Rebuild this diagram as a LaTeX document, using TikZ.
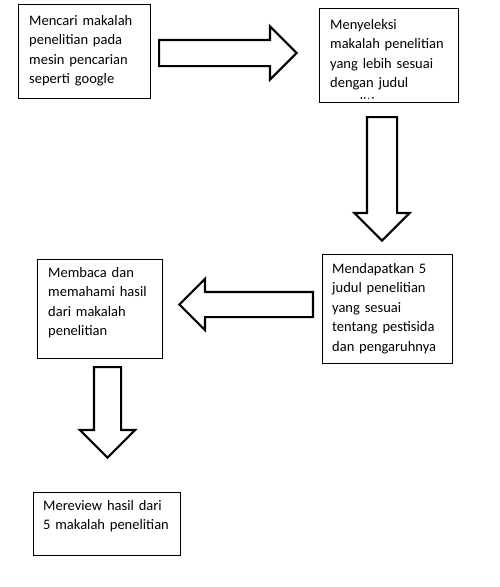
\documentclass[tikz,border=0pt]{standalone}
\usepackage{fontspec}
\setmainfont{Carlito}
\usetikzlibrary{shapes.arrows}

\tikzset{
	box/.style={draw, rectangle, line width=0.8pt, inner sep=0pt, anchor=north west},
	boxtext/.style={anchor=base west, inner sep=0pt, text width=150pt, align=left,
		font=\fontsize{14.5}{19.5}\selectfont},
	blockarrow/.style={draw, single arrow, line width=2.2pt, inner xsep=0pt, anchor=tail,
		single arrow tip angle=90, fill=white}
}

\begin{document}
\begin{tikzpicture}[x=1pt, y=-1pt]
	\useasboundingbox (0,0) rectangle (500,587);

	% kotak-kotak
	\node[box, minimum width=132pt, minimum height=94pt]	(b1) at (18,4) 	{};
	\node[box, minimum width=139pt, minimum height=94pt]	(b2) at (319,8) 	{};
	\node[box, minimum width=130pt, minimum height=109pt]	(b3) at (322,254) 	{};
	\node[box, minimum width=125pt, minimum height=99pt]	(b4) at (37,259) 	{};
	\node[box, minimum width=147pt, minimum height=63pt]	(b5) at (33,492) 	{};

	% teks
	\node[boxtext] (t1) at ([xshift=11pt, yshift=-21pt]b1.north west)
		{Mencari makalah\\penelitian pada\\mesin pencarian\\seperti google};
	\begin{scope}
		\clip (b2.north west) rectangle ([yshift=4pt]b2.south east);
		\node[boxtext] (t2) at ([xshift=11pt, yshift=-21pt]b2.north west)
			{Menyeleksi\\makalah penelitian\\yang lebih sesuai\\dengan judul\\penelitian};
	\end{scope}
	\node[boxtext] (t3) at ([xshift=10pt, yshift=-19pt]b3.north west)
		{Mendapatkan 5\\judul penelitian\\yang sesuai\\tentang pestisida\\dan pengaruhnya};
	\node[boxtext] (t4) at ([xshift=11pt, yshift=-18pt]b4.north west)
		{Membaca dan\\memahami hasil\\dari makalah\\penelitian};
	\node[boxtext] (t5) at ([xshift=10pt, yshift=-18pt]b5.north west)
		{Mereview hasil dari\\5 makalah penelitian};

	% panah blok
	\node[blockarrow, minimum height=137.5pt, minimum width=51pt, inner ysep=12pt,
		single arrow head extend=13.5pt] (a12) at (158,53) {};
	\node[blockarrow, minimum height=123.5pt, minimum width=53pt, inner ysep=14pt,
		single arrow head extend=12.5pt, rotate=270] (a23) at (382,116) {};
	\node[blockarrow, minimum height=133.5pt, minimum width=49pt, inner ysep=11.5pt,
		single arrow head extend=13pt, rotate=180] (a34) at (314,304.5) {};
	\node[blockarrow, minimum height=90.5pt, minimum width=53pt, inner ysep=12.5pt,
		single arrow head extend=14pt, rotate=270] (a45) at (107.5,366) {};
\end{tikzpicture}
\end{document}
